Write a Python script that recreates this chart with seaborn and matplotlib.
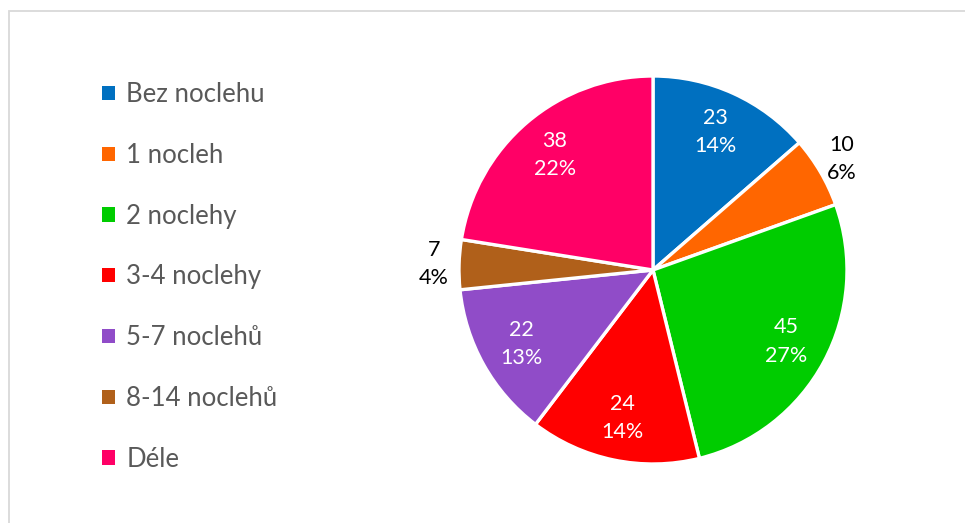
import matplotlib
matplotlib.use("Agg")
import matplotlib.pyplot as plt
import seaborn as sns
import numpy as np
from matplotlib.patches import Rectangle

sns.set_theme(style="white")
plt.rcParams['font.family'] = ['Lato', 'DejaVu Sans']

categories = ["Bez noclehu", "1 nocleh", "2 noclehy", "3-4 noclehy", "5-7 noclehů", "8-14 noclehů", "Déle"]
values = [23, 10, 45, 24, 22, 7, 38]
colors = ["#0070C0", "#FF6600", "#00CC00", "#FF0000", "#904CC8", "#B0601A", "#FF0066"]
outside = [False, True, False, False, False, True, False]

W, H = 965, 523
fig = plt.figure(figsize=(W / 100, H / 100), dpi=100)
fig.patches.append(Rectangle((8.5 / W, -0.1), 1.2, (H - 11.5) / H + 0.1, transform=fig.transFigure,
                             fill=False, edgecolor="#D9D9D9", linewidth=1.3))

cx, cy, r = 653, 270, 194
ax = fig.add_axes([(cx - r) / W, (H - cy - r) / H, 2 * r / W, 2 * r / H])
total = sum(values)
wedges, texts = ax.pie(
    values, colors=colors, startangle=90, counterclock=False,
    wedgeprops=dict(edgecolor="white", linewidth=2.4), radius=1.0)
ax.set_xlim(-1, 1)
ax.set_ylim(-1, 1)
ax.set_aspect("equal")
ax.axis("off")

for w, v, out in zip(wedges, values, outside):
    ang = np.deg2rad((w.theta1 + w.theta2) / 2)
    d = 1.13 if out else 0.78
    ax.text(d * np.cos(ang), d * np.sin(ang), f"{v}\n{round(100 * v / total):d}%",
            ha="center", va="center", fontsize=15.5, linespacing=1.52,
            color="black" if out else "white")

handles = [Rectangle((0, 0), 1, 1, facecolor=c, edgecolor="none") for c in colors]
leg = fig.legend(handles, categories, loc="upper left", bbox_to_anchor=(92 / W, 1 - 72 / H),
                 frameon=False, fontsize=18.5, labelspacing=1.39, handlelength=0.48, handleheight=0.48,
                 handletextpad=0.45, labelcolor="#595959", borderaxespad=0)

fig.savefig("out.png", dpi=100, facecolor="white")
